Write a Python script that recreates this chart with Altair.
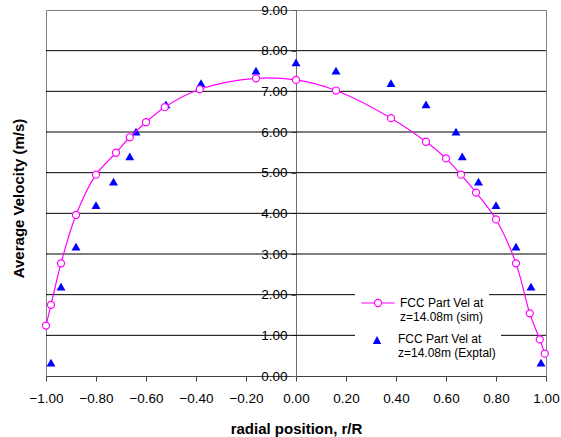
import altair as alt
import pandas as pd

# Simulated particle velocity across the riser (r/R, m/s)
sim_r = [-1.0, -0.98, -0.94, -0.88, -0.80, -0.72, -0.665, -0.60, -0.525, -0.385,
         -0.16, 0.0, 0.16, 0.38, 0.52, 0.60, 0.66, 0.72, 0.80, 0.88, 0.935, 0.975, 0.995]
sim_v = [1.24, 1.75, 2.77, 3.96, 4.95, 5.49, 5.87, 6.24, 6.61, 7.05,
         7.32, 7.28, 7.02, 6.34, 5.76, 5.35, 4.95, 4.51, 3.85, 2.77, 1.54, 0.90, 0.55]

# Measured particle velocity
exp_r = [-0.98, -0.94, -0.88, -0.80, -0.73, -0.665, -0.64, -0.52, -0.38, -0.16, 0.0,
         0.16, 0.38, 0.52, 0.64, 0.665, 0.73, 0.80, 0.88, 0.94, 0.98]
exp_v = [0.33, 2.20, 3.18, 4.20, 4.78, 5.40, 6.01, 6.68, 7.20, 7.51, 7.71,
         7.51, 7.20, 6.68, 6.01, 5.40, 4.78, 4.20, 3.18, 2.20, 0.33]

x_ticks = [-1.0, -0.8, -0.6, -0.4, -0.2, 0.0, 0.2, 0.4, 0.6, 0.8, 1.0]
y_ticks = [0, 1, 2, 3, 4, 5, 6, 7, 8, 9]
grid_v = [1, 2, 3, 4, 5, 6, 7, 8]

SIM_LABEL = "FCC Part Vel at|z=14.08m (sim)"
EXP_LABEL = "FCC Part Vel at|z=14.08m (Exptal)"

sim_df = pd.DataFrame({"r": sim_r, "v": sim_v, "series": SIM_LABEL})
exp_df = pd.DataFrame({"r": exp_r, "v": exp_v, "series": EXP_LABEL})
grid_df = pd.DataFrame({"v": grid_v})

FONT = "Liberation Sans"
W, H = 500, 366

x_enc = alt.X(
    "r:Q",
    scale=alt.Scale(domain=[-1, 1], nice=False, zero=False),
    axis=alt.Axis(
        values=x_ticks, format=".2f", title="radial position, r/R", grid=False,
        labelFont=FONT, labelFontSize=13.5, labelColor="black", labelPadding=10,
        labelFlush=False, labelOverlap=False,
        tickSize=5, tickColor="#404040", domainColor="#404040",
        titleFont=FONT, titleFontSize=15, titleFontWeight="bold", titleColor="black",
        titleY=52, titleBaseline="middle",
    ),
)
y_enc = alt.Y(
    "v:Q",
    scale=alt.Scale(domain=[0, 9], nice=False),
    axis=alt.Axis(
        values=y_ticks, format=".2f", title="Average Velocity (m/s)", grid=False,
        offset=-W / 2, labelFlush=False, labelOverlap=False,
        labelFont=FONT, labelFontSize=13.5, labelColor="black", labelPadding=4,
        tickSize=5, tickColor="#606060", domainColor="#707070",
        titleFont=FONT, titleFontSize=15, titleFontWeight="bold", titleColor="black",
        titleX=-W / 2 - 28, titleY=188, titleBaseline="middle", titleAngle=270,
    ),
)

# Legend glyphs: line with an open circle, and a filled triangle
SIM_PATH = ("M-0.98,0H-0.21 M0.21,0H0.98 "
            "M0.21,0A0.21,0.21 0 1,1 -0.21,0A0.21,0.21 0 1,1 0.21,0Z")
TRI_PATH = "M0,-0.18L0.25,0.29L-0.25,0.29Z"

legend_common = dict(
    title=None, orient="none", symbolSize=1156, labelExpr="split(datum.label, '|')",
    labelFont=FONT, labelFontSize=12, labelColor="black", labelOffset=4,
    labelLimit=200, fillColor="white", padding=5,
)

stroke_enc = alt.Stroke(
    "series:N",
    scale=alt.Scale(domain=[SIM_LABEL], range=["#FF00FF"]),
    legend=alt.Legend(symbolType=SIM_PATH, symbolStrokeWidth=1.2,
                      legendX=309, legendY=270, **legend_common),
)
fill_enc = alt.Fill(
    "series:N",
    scale=alt.Scale(domain=[EXP_LABEL], range=["#0000FF"]),
    legend=alt.Legend(symbolType=TRI_PATH, symbolStrokeWidth=0,
                      legendX=309, legendY=307, **legend_common),
)

grid = alt.Chart(grid_df).mark_rule(color="black", strokeWidth=1).encode(y=y_enc)

tris = alt.Chart(exp_df).mark_point(
    shape="triangle-up", size=80, filled=True, opacity=1, strokeWidth=0
).encode(x=x_enc, y=y_enc, fill=fill_enc)

line = alt.Chart(sim_df).mark_line(interpolate="catmull-rom", strokeWidth=1.2).encode(
    x=x_enc, y=y_enc, stroke=stroke_enc
)
circles = alt.Chart(sim_df).mark_point(
    shape="circle", size=50, filled=False, fill="white", strokeWidth=1.2, opacity=1
).encode(x=x_enc, y=y_enc, stroke=stroke_enc)

chart = (
    alt.layer(grid, tris, line, circles)
    .properties(
        width=W, height=H,
        padding={"left": 46, "top": 10, "right": 15, "bottom": 61},
        autosize=alt.AutoSizeParams(type="none"),
        background="white",
    )
    .configure_view(stroke="#808080", strokeWidth=1)
)

chart.save("out.html", embed_options={"renderer": "svg", "actions": False})
